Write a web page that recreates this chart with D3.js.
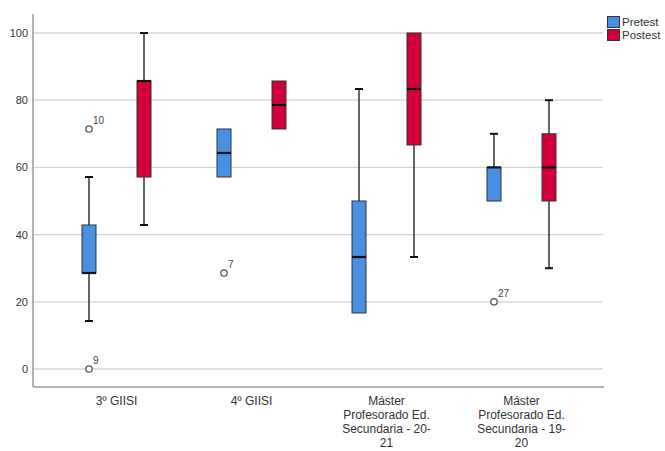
<!DOCTYPE html>
<html><head><meta charset="utf-8">
<script src="https://cdn.jsdelivr.net/npm/d3@7"></script>
<style>body{margin:0;background:#fff}svg{display:block;font-family:"Liberation Sans",Arial,sans-serif}</style>
</head><body><svg id="c" width="665" height="451"></svg>
<script>
const categories = ["3º GIISI", "4º GIISI", "Máster Profesorado Ed. Secundaria - 20-21", "Máster Profesorado Ed. Secundaria - 19-20"];
const categoryLines = [["3º GIISI"], ["4º GIISI"], ["Máster", "Profesorado Ed.", "Secundaria - 20-", "21"], ["Máster", "Profesorado Ed.", "Secundaria - 19-", "20"]];
const series = ["Pretest", "Postest"];
const colors = ["#4a90e2", "#d2003a"];
const yTicks = [0, 20, 40, 60, 80, 100];
// [min whisker, q1, median, q3, max whisker]
const pretestStats = [
  [14.29, 28.57, 28.57, 42.86, 57.14],
  [57.14, 57.14, 64.29, 71.43, 71.43],
  [16.67, 16.67, 33.33, 50, 83.33],
  [50, 50, 60, 60, 70]
];
const postestStats = [
  [42.86, 57.14, 85.71, 85.71, 100],
  [71.43, 71.43, 78.57, 85.71, 85.71],
  [33.33, 66.67, 83.33, 100, 100],
  [30, 50, 60, 70, 80]
];
// outliers: [category index, series index, value, case label]
const outliers = [
  [0, 0, 71.43, "10"],
  [0, 0, 0, "9"],
  [1, 0, 28.57, "7"],
  [3, 0, 20, "27"]
];

const svg = d3.select("#c");
const plotL = 33, plotR = 604, plotT = 14, plotB = 387;
const y = d3.scaleLinear().domain([0, 100]).range([369, 33]);
const x = d3.scaleBand().domain(categories).range([49, 589]);
const xs = d3.scalePoint().domain(series).range([-27.5, 27.5]);
const cx = (ci, si) => x(categories[ci]) + x.bandwidth() / 2 + xs(series[si]);

// gridlines
svg.append("g").selectAll("line").data(yTicks).join("line")
  .attr("x1", plotL).attr("x2", plotR - 1)
  .attr("y1", d => y(d)).attr("y2", d => y(d))
  .attr("stroke", "#d4d4d4").attr("stroke-width", 1.3);

// y axis
const yAxis = svg.append("g").attr("transform", `translate(${plotL},0)`)
  .call(d3.axisLeft(y).tickValues(yTicks).tickSize(0).tickPadding(5));
yAxis.select(".domain").remove();
yAxis.selectAll("text").attr("font-size", 11).attr("fill", "#333").attr("font-family", "Liberation Sans, Arial, sans-serif");
svg.append("line").attr("x1", plotL).attr("x2", plotL).attr("y1", plotT).attr("y2", plotB)
  .attr("stroke", "#999").attr("stroke-width", 1.5);
svg.append("line").attr("x1", plotL).attr("x2", plotR).attr("y1", plotB).attr("y2", plotB)
  .attr("stroke", "#999").attr("stroke-width", 1.5);

// x labels
const xl = svg.append("g").attr("font-size", 12).attr("fill", "#333").attr("text-anchor", "middle");
categoryLines.forEach((lines, i) => {
  const xc = x(categories[i]) + x.bandwidth() / 2;
  lines.forEach((l, j) => xl.append("text").attr("x", xc).attr("y", 405 + j * 13.9).text(l));
});

// boxes
const boxW = 14, capW = 8;
[pretestStats, postestStats].forEach((stats, si) => {
  stats.forEach((s, ci) => {
    const c = cx(ci, si);
    const g = svg.append("g");
    if (s[0] < s[1]) {
      g.append("line").attr("x1", c).attr("x2", c).attr("y1", y(s[0])).attr("y2", y(s[1])).attr("stroke", "#333").attr("stroke-width", 1.5);
      g.append("line").attr("x1", c - capW / 2).attr("x2", c + capW / 2).attr("y1", y(s[0])).attr("y2", y(s[0])).attr("stroke", "#111").attr("stroke-width", 2);
    }
    if (s[4] > s[3]) {
      g.append("line").attr("x1", c).attr("x2", c).attr("y1", y(s[4])).attr("y2", y(s[3])).attr("stroke", "#333").attr("stroke-width", 1.5);
      g.append("line").attr("x1", c - capW / 2).attr("x2", c + capW / 2).attr("y1", y(s[4])).attr("y2", y(s[4])).attr("stroke", "#111").attr("stroke-width", 2);
    }
    g.append("rect").attr("x", c - boxW / 2).attr("width", boxW)
      .attr("y", y(s[3])).attr("height", y(s[1]) - y(s[3]))
      .attr("fill", colors[si]).attr("stroke", "#333").attr("stroke-width", 1);
    g.append("line").attr("x1", c - boxW / 2).attr("x2", c + boxW / 2).attr("y1", y(s[2])).attr("y2", y(s[2]))
      .attr("stroke", "#111").attr("stroke-width", 2.2);
  });
});

// outliers
outliers.forEach(([ci, si, v, lab]) => {
  const c = cx(ci, si);
  svg.append("circle").attr("cx", c).attr("cy", y(v)).attr("r", 3.2)
    .attr("fill", "#fff").attr("stroke", "#555").attr("stroke-width", 1.3);
  svg.append("text").attr("x", c + 4).attr("y", y(v) - 5).attr("font-size", 10).attr("fill", "#444").text(lab);
});

// legend
const lg = svg.append("g");
series.forEach((s, i) => {
  lg.append("rect").attr("x", 607.5).attr("y", 16.5 + i * 13).attr("width", 12).attr("height", 11)
    .attr("fill", colors[i]).attr("stroke", "#333").attr("stroke-width", 1);
  lg.append("text").attr("x", 622).attr("y", 26 + i * 13).attr("font-size", 11.5).attr("fill", "#333").text(s);
});
</script></body></html>
